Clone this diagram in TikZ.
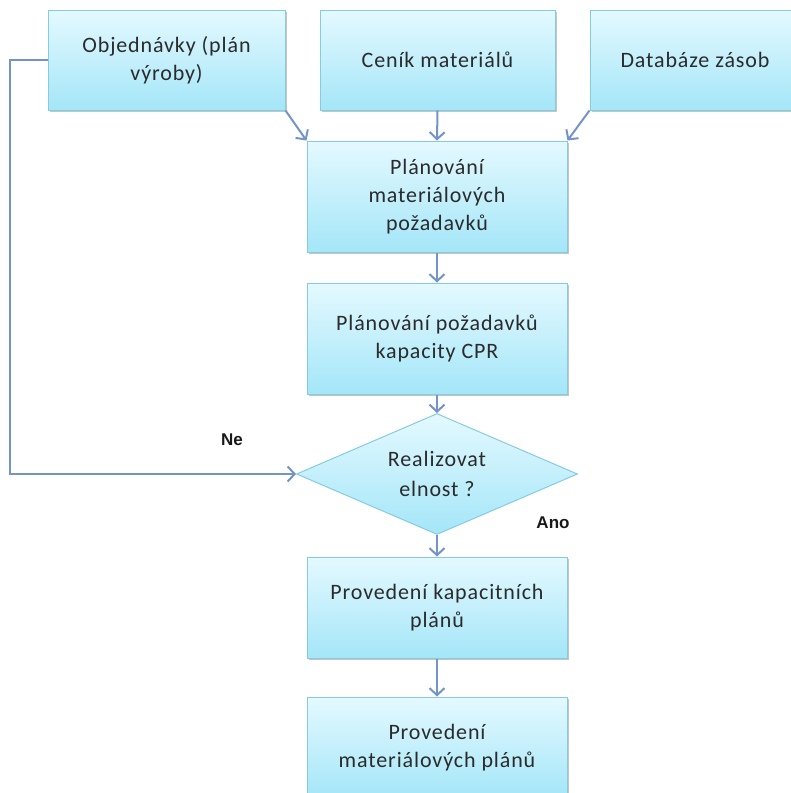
\documentclass[tikz,border=0pt]{standalone}
\usepackage{fontspec}
\setmainfont[LetterSpace=4]{Carlito}
\newfontfamily\lblfont{Liberation Sans}
\usepackage{xcolor}
\usetikzlibrary{arrows.meta}
\usetikzlibrary{shapes.geometric}
\usetikzlibrary{shadows}
\definecolor{boxtop}{HTML}{E4F9FF}
\definecolor{boxbot}{HTML}{A4E6F8}
\definecolor{boxline}{HTML}{86CCE0}
\definecolor{flowline}{HTML}{7393C9}
\definecolor{txt}{HTML}{2B2B2B}

\tikzset{
  procbox/.style={rectangle, draw=boxline, line width=1pt, top color=boxtop,
    bottom color=boxbot, text=txt, align=center, inner sep=0pt,
    font=\fontsize{22}{28}\selectfont,
    drop shadow={shadow xshift=2pt, shadow yshift=-2pt, fill=black!45}},
  decbox/.style={diamond, shape aspect=2.3, draw=boxline, line width=1pt, top color=boxtop,
    bottom color=boxbot, text=txt, align=center, inner sep=0pt,
    font=\fontsize{22}{30}\selectfont, minimum width=281pt, minimum height=121pt},
  flow/.style={draw=flowline, line width=2pt,
    -{Straight Barb[length=7pt, width=15pt, line width=2pt]}},
  answer/.style={font=\lblfont\bfseries\fontsize{17}{19}\selectfont, text=black!90}
}

\begin{document}
\begin{tikzpicture}[x=1pt,y=1pt]
  \useasboundingbox (0,0) rectangle (791,-793);
  % inputs
  \node[procbox, minimum width=237pt, minimum height=100pt] (obj) at (166.5,-60) {Objednávky (plán\\výroby)};
  \node[procbox, minimum width=235pt, minimum height=100pt] (cen) at (437.5,-60) {Ceník materiálů};
  \node[procbox, minimum width=220pt, minimum height=100pt] (db) at (700,-60) {\hspace*{-10pt}Databáze zásob};
  % main column
  \node[procbox, minimum width=260pt, minimum height=111pt] (mrp) at (437,-196.5) {Plánování\\materiálových\\požadavků};
  \node[procbox, minimum width=260pt, minimum height=111pt] (cpr) at (437,-338.5) {Plánování požadavků\\kapacity CPR};
  \node[decbox] (dec) at (437,-474) {Realizovat\\elnost ?};
  \node[procbox, minimum width=260pt, minimum height=101pt] (kap) at (437,-607.5) {Provedení kapacitních\\plánů};
  \node[procbox, minimum width=260pt, minimum height=101pt] (mat) at (437,-747.5) {Provedení\\materiálových plánů};
  \coordinate (ret) at (10,-474);
  % connectors
  \draw[flow] (obj.south east) -- (mrp.north west);
  \draw[flow] (cen.south) -- (mrp.north);
  \draw[flow] (db.south west) -- (mrp.north east);
  \draw[flow] (mrp) -- (cpr);
  \draw[flow] (cpr) -- (dec);
  \draw[flow] (dec) -- (kap);
  \draw[flow] (kap) -- (mat);
  \draw[flow] (obj.west) -| (ret) -- (dec.west);
  \node[answer] (ne) at (232,-440) {Ne};
  \node[answer] (ano) at (553,-523) {Ano};
\end{tikzpicture}
\end{document}
